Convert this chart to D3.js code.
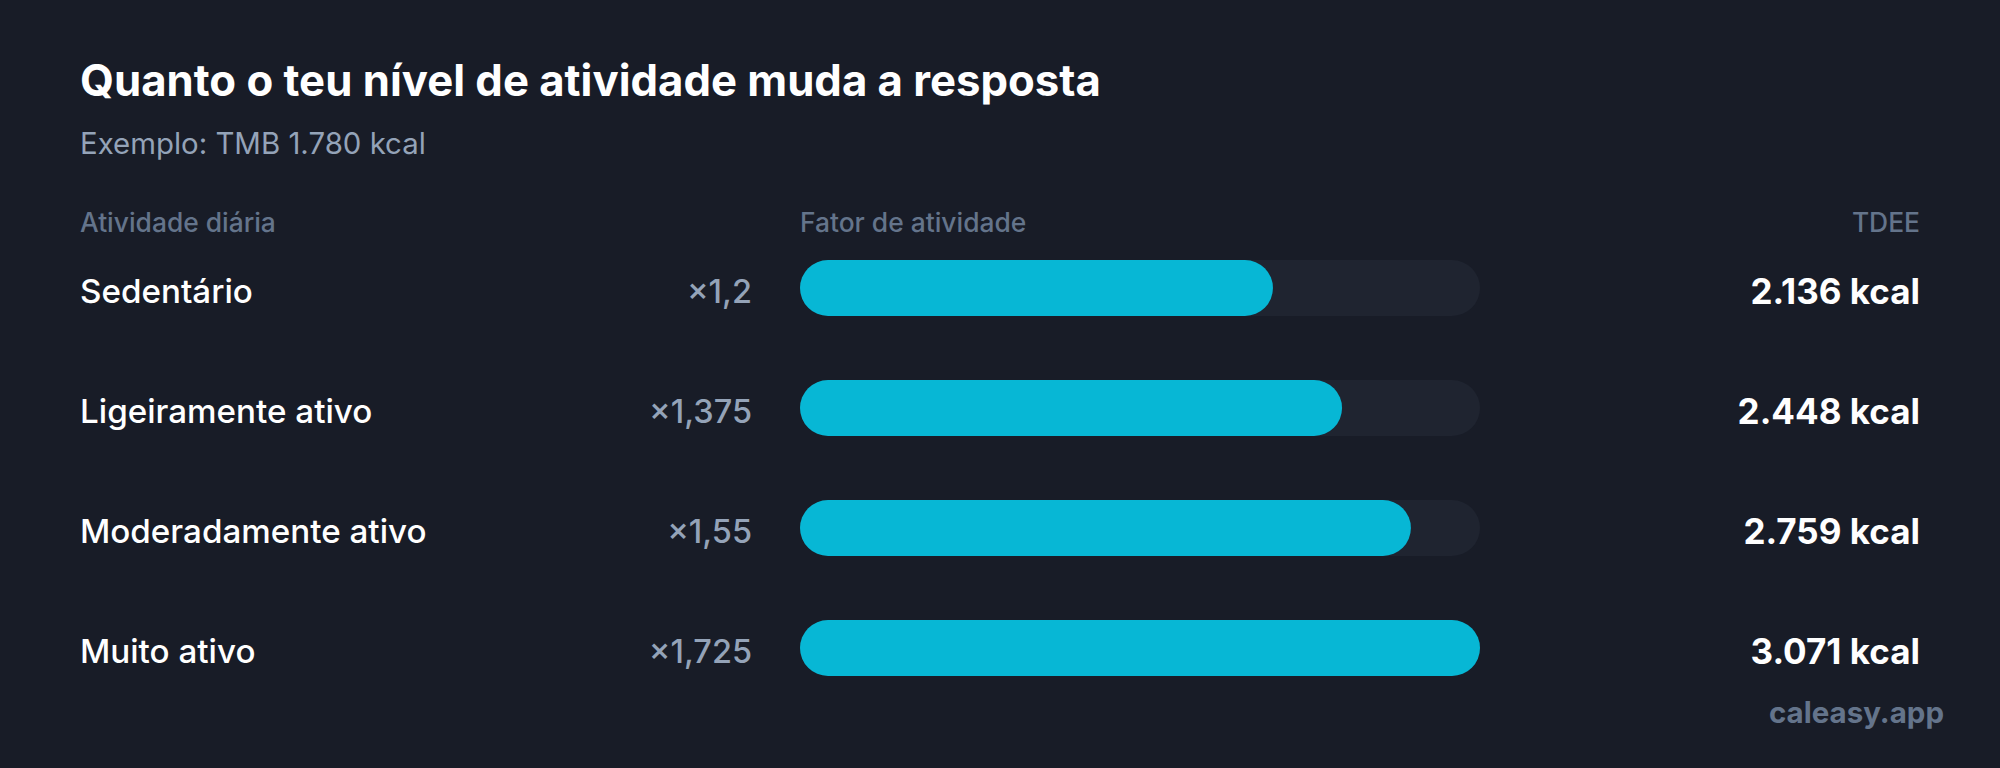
<!DOCTYPE html>
<html>
<head>
<meta charset="utf-8">
<script src="https://cdn.jsdelivr.net/npm/d3@7"></script>
<style>
  html, body { margin: 0; padding: 0; background: #181c27; }
  svg { display: block; }
  text { font-family: Inter, "Noto Sans", sans-serif; }
</style>
</head>
<body>
<svg id="chart" width="2000" height="768"></svg>
<script>
const categories = ["Sedentário", "Ligeiramente ativo", "Moderadamente ativo", "Muito ativo"];
const factors = [1.2, 1.375, 1.55, 1.725];
const factorLabels = ["×1,2", "×1,375", "×1,55", "×1,725"];
const tdee = [2136, 2448, 2759, 3071];
const tdeeLabels = ["2.136 kcal", "2.448 kcal", "2.759 kcal", "3.071 kcal"];
const headers = ["Atividade diária", "Fator de atividade", "TDEE"];
const title = "Quanto o teu nível de atividade muda a resposta";
const subtitle = "Exemplo: TMB 1.780 kcal";
const credit = "caleasy.app";

const svg = d3.select("#chart");
const W = 2000, H = 768;
svg.append("rect").attr("width", W).attr("height", H).attr("fill", "#181c27");

const left = 80, right = 1920, barX0 = 800, barW = 680, factorRight = 752;

svg.append("text").attr("x", left).attr("y", 96)
  .attr("fill", "#ffffff").attr("font-size", 43.7).attr("font-weight", 700)
  .text(title);
svg.append("text").attr("x", left).attr("y", 154)
  .attr("fill", "#94a3b8").attr("font-size", 29.4).text(subtitle);

const hdr = svg.append("g").attr("fill", "#64748b").attr("font-size", 26.4).attr("font-weight", 500);
hdr.append("text").attr("x", left).attr("y", 232).text(headers[0]);
hdr.append("text").attr("x", barX0).attr("y", 232).text(headers[1]);
hdr.append("text").attr("x", right).attr("y", 232).attr("text-anchor", "end").text(headers[2]);

const y = d3.scaleBand().domain(categories).range([228, 708]).padding(0);
const x = d3.scaleLinear().domain([0, d3.max(tdee)]).range([0, barW]);
const barH = 56;

const rows = svg.selectAll("g.row").data(categories.map((c, i) => ({c, i})))
  .join("g").attr("class", "row")
  .attr("transform", d => `translate(0,${y(d.c) + y.bandwidth() / 2})`);

rows.append("text").attr("x", left).attr("y", 15)
  .attr("fill", "#ffffff").attr("font-size", 33.2).attr("font-weight", 500)
  .text(d => d.c);
rows.append("text").attr("x", factorRight).attr("y", 15).attr("text-anchor", "end")
  .attr("fill", "#94a3b8").attr("font-size", 32.5).attr("font-weight", 500)
  .text(d => factorLabels[d.i]);
rows.append("rect").attr("x", barX0).attr("y", -barH / 2)
  .attr("width", barW).attr("height", barH).attr("rx", barH / 2)
  .attr("fill", "#1f2430");
rows.append("rect").attr("x", barX0).attr("y", -barH / 2)
  .attr("width", d => x(tdee[d.i])).attr("height", barH).attr("rx", barH / 2)
  .attr("fill", "#07b7d5");
rows.append("text").attr("x", right).attr("y", 16).attr("text-anchor", "end")
  .attr("fill", "#ffffff").attr("font-size", 35).attr("font-weight", 700)
  .text(d => tdeeLabels[d.i]);

svg.append("text").attr("x", 1944).attr("y", 723).attr("text-anchor", "end")
  .attr("fill", "#64748b").attr("font-size", 29.5).attr("font-weight", 700)
  .text(credit);
</script>
</body>
</html>
